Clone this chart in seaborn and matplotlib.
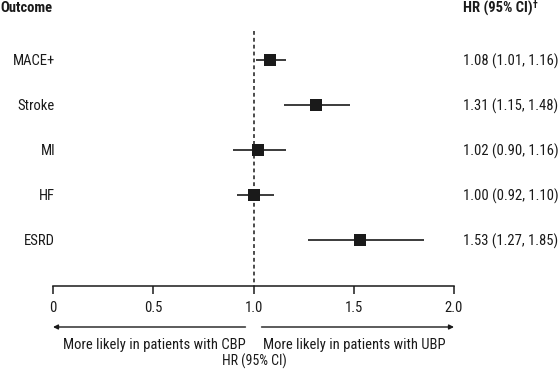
import seaborn as sns
import pandas as pd
import numpy as np
import matplotlib.pyplot as plt
import matplotlib
matplotlib.use('Agg')

outcomes = ["MACE+", "Stroke", "MI", "HF", "ESRD"]
hr = [1.08, 1.31, 1.02, 1.00, 1.53]
lo = [1.01, 1.15, 0.90, 0.92, 1.27]
hi = [1.16, 1.48, 1.16, 1.10, 1.85]
xticks = [0, 0.5, 1.0, 1.5, 2.0]
xticklabels = ["0", "0.5", "1.0", "1.5", "2.0"]

sns.set_style("white")
plt.rcParams['font.family'] = ['Roboto Condensed', 'Barlow Semi Condensed', 'DejaVu Sans']
ink = "#1a1a1a"
fs = 10.5

df = pd.DataFrame({"outcome": outcomes, "hr": hr, "lo": lo, "hi": hi})
df["row"] = np.arange(len(df))
df["label"] = ["%.2f (%.2f, %.2f)" % (a, b, c) for a, b, c in zip(hr, lo, hi)]

fig = plt.figure(figsize=(5.6, 3.71), dpi=100)
ax = fig.add_axes([53/560, 1-286/371, 401/560, 266/371])

ax.hlines(df["row"], df["lo"], df["hi"], color=ink, lw=1.2, zorder=2)
sns.scatterplot(data=df, x="hr", y="row", marker="s", s=80, color=ink,
                edgecolor=ink, linewidth=0, ax=ax, zorder=3)
ax.plot([1, 1], [-0.64, 5.02], ls=(0, (2.5, 2)), color=ink, lw=1.1, zorder=1)

ax.set_xlim(0, 2.0)
ax.set_ylim(5.02, -0.89)
ax.set_yticks([])
ax.set_xticks(xticks)
ax.set_xticklabels(xticklabels, fontsize=fs)
ax.tick_params(axis='x', direction='out', bottom=True, length=5.5, width=1.1, color=ink, pad=5, labelcolor=ink)
for s in ["top", "left", "right"]:
    ax.spines[s].set_visible(False)
ax.spines["bottom"].set_color(ink)
ax.spines["bottom"].set_linewidth(1.1)
ax.set_xlabel("")
ax.set_ylabel("")

for _, r in df.iterrows():
    y = 1 - (61 + 45 * r["row"]) / 371
    fig.text(55/560, y, r["outcome"], ha="right", va="center", fontsize=fs, color=ink)
    fig.text(463/560, y, r["label"], ha="left", va="center", fontsize=fs, color=ink)

fig.text(0/560, 1-8/371, "Outcome", ha="left", va="center", fontsize=fs, fontweight="bold", color=ink)
hdr = fig.text(463/560, 1-8/371, "HR (95% CI)", ha="left", va="center", fontsize=fs, fontweight="bold", color=ink)
# dagger as a small superscript after the header
ax.annotate("\u2020", xy=(1.0, 1.0), xycoords=hdr, ha="left", va="top", fontsize=7,
            fontweight="bold", color=ink, annotation_clip=False)

arrowprops = dict(arrowstyle="-|>", color=ink, lw=1, mutation_scale=7, shrinkA=0, shrinkB=0)
ay = (286 - 327) / 266
ax.annotate("", xy=(0, ay), xytext=(0.96, ay), xycoords=("data", "axes fraction"),
            textcoords=("data", "axes fraction"), arrowprops=arrowprops, annotation_clip=False)
ax.annotate("", xy=(2.0, ay), xytext=(1.04, ay), xycoords=("data", "axes fraction"),
            textcoords=("data", "axes fraction"), arrowprops=arrowprops, annotation_clip=False)
fig.text(246/560, 1-345/371, "More likely in patients with CBP", ha="right", va="center", fontsize=fs, color=ink)
fig.text(263/560, 1-345/371, "More likely in patients with UBP", ha="left", va="center", fontsize=fs, color=ink)
fig.text(254/560, 1-361/371, "HR (95% CI)", ha="center", va="center", fontsize=fs - 0.5, color=ink)

fig.savefig("out.png", dpi=100)
